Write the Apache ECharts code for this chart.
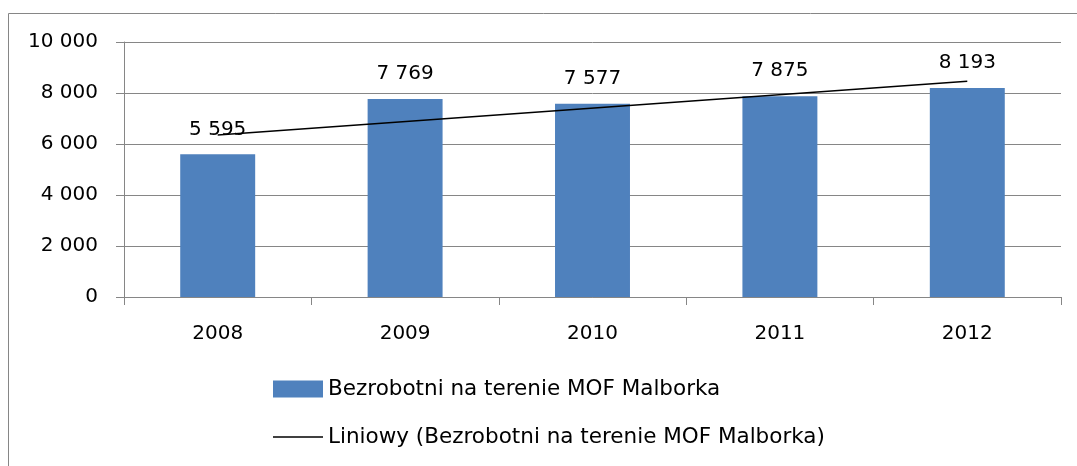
<!DOCTYPE html>
<html><head><meta charset="utf-8">
<script src="https://cdn.jsdelivr.net/npm/echarts@6/dist/echarts.min.js"></script>
<style>html,body{margin:0;padding:0;background:#fff}#c{width:1077px;height:466px}</style>
</head><body><div id="c"></div>
<script>
const categories = ['2008', '2009', '2010', '2011', '2012'];
const values = [5595, 7769, 7577, 7875, 8193];
const trendValues = [6350, null, null, null, 8460];
const yTicks = [0, 2000, 4000, 6000, 8000, 10000];
const seriesName = 'Bezrobotni na terenie MOF Malborka';
const trendName = 'Liniowy (Bezrobotni na terenie MOF Malborka)';

const fmt = v => String(v).replace(/\B(?=(\d{3})+(?!\d))/g, ' ');
const FONT = 'DejaVu Sans';
const GRAY = '#868686';

const chart = echarts.init(document.getElementById('c'), null, {renderer: 'canvas'});
chart.setOption({
  animation: false,
  textStyle: {fontFamily: FONT, color: '#000'},
  graphic: [{
    type: 'rect', left: 6, top: 11,
    shape: {width: 1100, height: 500},
    style: {fill: 'none', stroke: GRAY, lineWidth: 1}
  }],
  grid: {left: 124, top: 42, right: 16, bottom: 169, containLabel: false},
  legend: {
    orient: 'vertical', left: 273, top: 378, itemGap: 26, padding: 0,
    itemWidth: 50, itemHeight: 17,
    textStyle: {fontFamily: FONT, fontSize: 21.5, color: '#000'},
    data: [
      {name: seriesName, icon: 'rect'},
      {name: trendName, icon: 'path://M0,0 L50,0 L50,1.5 L0,1.5 Z', itemStyle: {color: '#000'}}
    ]
  },
  xAxis: {
    type: 'category', data: categories,
    axisLine: {lineStyle: {color: GRAY, width: 1}},
    axisTick: {show: true, length: 8, lineStyle: {color: GRAY}},
    axisLabel: {fontFamily: FONT, fontSize: 20, color: '#000', margin: 27}
  },
  yAxis: {
    type: 'value', min: yTicks[0], max: yTicks[yTicks.length - 1], interval: yTicks[1] - yTicks[0],
    axisLine: {show: true, lineStyle: {color: GRAY, width: 1}},
    axisTick: {show: true, length: 8, lineStyle: {color: GRAY}},
    splitLine: {lineStyle: {color: GRAY, width: 1}},
    axisLabel: {fontFamily: FONT, fontSize: 20, color: '#000', margin: 26, formatter: fmt}
  },
  series: [{
    name: seriesName, type: 'bar', data: values, barWidth: '40%',
    itemStyle: {color: '#4F81BD'},
    label: {show: true, position: 'top', distance: 15, fontFamily: FONT, fontSize: 20, color: '#000',
      formatter: p => fmt(p.value)}
  }, {
    name: trendName, type: 'line', data: trendValues, connectNulls: true,
    showSymbol: false, symbol: 'none', z: 5,
    lineStyle: {color: '#000', width: 1.5},
    itemStyle: {color: '#000'}
  }]
});
</script></body></html>
